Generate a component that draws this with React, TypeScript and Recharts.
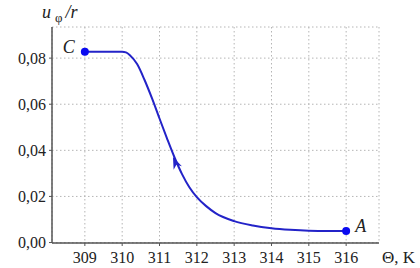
import React from "react";
import {
  LineChart,
  Line,
  XAxis,
  YAxis,
  CartesianGrid,
  ReferenceDot,
} from "recharts";

const thetaK = [309, 309.5, 310, 310.1, 310.2, 310.4, 310.6, 310.8, 311, 311.2, 311.4, 311.6, 311.8, 312, 312.25, 312.5, 313, 313.5, 314, 314.5, 315, 315.5, 316];
const uPhiR = [0.0828, 0.0828, 0.0828, 0.0825, 0.0814, 0.0774, 0.0705, 0.0625, 0.0538, 0.0452, 0.037, 0.0298, 0.024, 0.0197, 0.0158, 0.0128, 0.0093, 0.0074, 0.0062, 0.0055, 0.0051, 0.005, 0.005];
const xTicks = [309, 310, 311, 312, 313, 314, 315, 316];
const yTicks = [0, 0.02, 0.04, 0.06, 0.08];
const pointC = { x: 309, y: 0.0828, label: "C" };
const pointA = { x: 316, y: 0.005, label: "A" };
const arrowAt = { x: 311.43, y: 0.0345 };

const data = thetaK.map((t, i) => ({ t, v: uPhiR[i] }));

const FONT = '"Liberation Serif", "Times New Roman", Tinos, "DejaVu Serif", serif';
const AXIS = "#555";
const LINE = "#2323c8";
const DOT = "#0a0af0";

const Arrow = (props: any) => {
  const { cx, cy } = props;
  if (cx == null || cy == null) return null;
  const ang = Math.atan2(-26.7, -11.6);
  const ux = Math.cos(ang), uy = Math.sin(ang);
  const px = -uy, py = ux;
  const tipX = cx + ux * 6.5, tipY = cy + uy * 6.5;
  const bx = cx - ux * 5.5, by = cy - uy * 5.5;
  const pts = `${tipX},${tipY} ${bx + px * 4.5},${by + py * 4.5} ${cx - ux * 2},${cy - uy * 2} ${bx - px * 4.5},${by - py * 4.5}`;
  return <polygon points={pts} fill={LINE} />;
};

const EndDot = (side: "left" | "right", text: string) => (props: any) => {
  const { cx, cy } = props;
  if (cx == null || cy == null) return null;
  return (
    <g>
      <circle cx={cx} cy={cy} r={4} fill={DOT} />
      <text
        x={side === "left" ? cx - 22 : cx + 9}
        y={cy + 1}
        style={{ fontFamily: FONT, fontStyle: "italic", fontSize: 18 }}
        fill="#222"
      >
        {text}
      </text>
    </g>
  );
};

const tickStyle = { fontFamily: FONT, fontSize: 16, fill: "#222" };

export default function App() {
  return (
    <div style={{ position: "absolute", left: 0, top: 0, width: 420, height: 268, background: "#fff", fontFamily: FONT }}>
      <LineChart
        width={420}
        height={268}
        data={data}
        margin={{ top: 27, right: 41, bottom: 0, left: 0 }}
        style={{ fontFamily: FONT }}
      >
        <CartesianGrid
          xAxisId="b"
          yAxisId="l"
          stroke="#b5b5b5"
          strokeDasharray="1.5 2.5"
          strokeWidth={1}
        />
        <XAxis
          xAxisId="b"
          dataKey="t"
          type="number"
          domain={[308.12, 316.88]}
          ticks={xTicks}
          height={25}
          tickSize={3}
          tickMargin={6}
          axisLine={{ stroke: AXIS, strokeWidth: 1.5 }}
          tickLine={{ stroke: AXIS }}
          tick={{ ...tickStyle, style: { fontFamily: FONT } }}
          interval={0}
        />
        <XAxis
          xAxisId="t"
          dataKey="t"
          type="number"
          orientation="top"
          domain={[308.12, 316.88]}
          height={0}
          tick={false}
          tickLine={false}
          axisLine={{ stroke: AXIS, strokeWidth: 1.5 }}
        />
        <YAxis
          yAxisId="l"
          type="number"
          domain={[-0.0002, 0.0935]}
          ticks={yTicks}
          width={52}
          tickSize={3}
          tickMargin={3}
          axisLine={{ stroke: AXIS, strokeWidth: 1.5 }}
          tickLine={{ stroke: AXIS }}
          tick={{ ...tickStyle, style: { fontFamily: FONT } }}
          tickFormatter={(v: number) => v.toFixed(2).replace(".", ",")}
          interval={0}
        />
        <YAxis
          yAxisId="r"
          orientation="right"
          type="number"
          domain={[-0.0002, 0.0935]}
          width={0}
          tick={false}
          tickLine={false}
          axisLine={{ stroke: AXIS, strokeWidth: 1.5 }}
        />
        <Line
          xAxisId="b"
          yAxisId="l"
          type="monotone"
          dataKey="v"
          stroke={LINE}
          strokeWidth={2}
          dot={false}
          isAnimationActive={false}
        />
        <ReferenceDot xAxisId="b" yAxisId="l" x={pointC.x} y={pointC.y} shape={EndDot("left", pointC.label)} />
        <ReferenceDot xAxisId="b" yAxisId="l" x={pointA.x} y={pointA.y} shape={EndDot("right", pointA.label)} />
        <ReferenceDot xAxisId="b" yAxisId="l" x={arrowAt.x} y={arrowAt.y} shape={Arrow} />
        <text x={42} y={18} style={{ fontFamily: FONT, fontSize: 18 }} fill="#222">
          <tspan fontStyle="italic">u</tspan>
          <tspan dx={4} dy={4} fontSize={13}>φ</tspan>
          <tspan dx={3} dy={-4} fontStyle="italic">/r</tspan>
        </text>
        <text x={382} y={263} style={{ fontFamily: FONT, fontSize: 17 }} fill="#222">
          Θ, K
        </text>
      </LineChart>
    </div>
  );
}
